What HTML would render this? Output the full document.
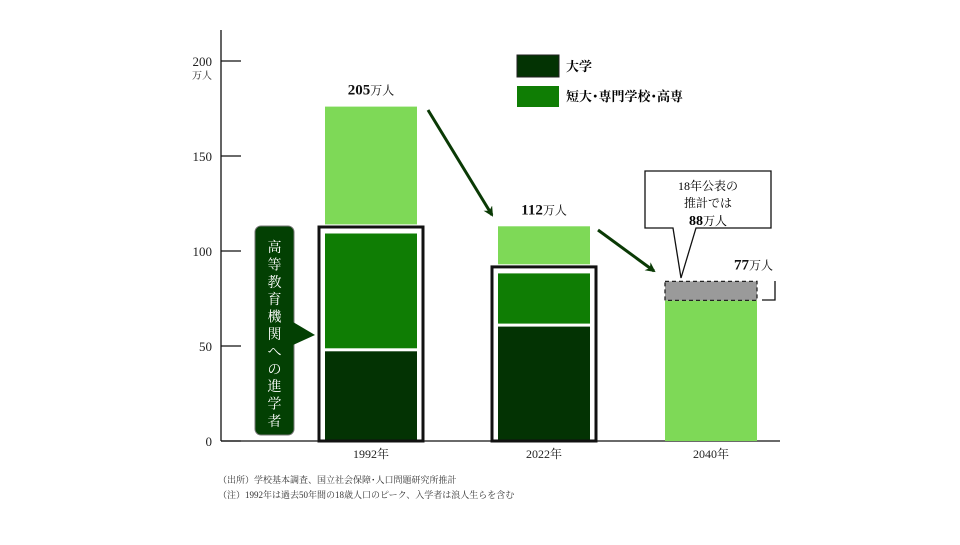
<!DOCTYPE html>
<html><head><meta charset="utf-8"><style>
body{margin:0;background:#fff;}
svg text{font-family:"Liberation Serif","Noto Serif CJK SC",serif;}
</style></head><body>
<svg width="960" height="540" viewBox="0 0 960 540">
<defs><marker id="ah" markerWidth="10" markerHeight="10" refX="8" refY="5" orient="auto" markerUnits="userSpaceOnUse" viewBox="0 0 10 10"><path d="M0,0 L10,5 L0,10 L3,5 z" fill="#0a3a05"/></marker></defs>
<g id="axis"></g>
<g id="bars"></g>
<g>
<rect x="517" y="55" width="42" height="22" fill="#033303" stroke="#222" stroke-width="1"/>
<text x="566" y="71" font-size="13" font-weight="bold">大学</text>
<rect x="517" y="86" width="42" height="21" fill="#0f7d04"/>
<text x="566" y="101" font-size="13" font-weight="bold">短大･専門学校･高専</text>
</g>
<g>
<rect x="255" y="226" width="39" height="209" rx="6" fill="#034003" stroke="#777" stroke-width="1"/>
<path d="M293,322 L315,335 L293,345 z" fill="#034003"/>
<text x="274.5" y="252" font-size="14" fill="#fff" text-anchor="middle">
<tspan x="274.5" dy="0">高</tspan><tspan x="274.5" dy="17.4">等</tspan><tspan x="274.5" dy="17.4">教</tspan><tspan x="274.5" dy="17.4">育</tspan><tspan x="274.5" dy="17.4">機</tspan><tspan x="274.5" dy="17.4">関</tspan><tspan x="274.5" dy="17.4">へ</tspan><tspan x="274.5" dy="17.4">の</tspan><tspan x="274.5" dy="17.4">進</tspan><tspan x="274.5" dy="17.4">学</tspan><tspan x="274.5" dy="17.4">者</tspan></text>
</g>
<line x1="428" y1="110" x2="492" y2="215" stroke="#0a3a05" stroke-width="3" marker-end="url(#ah)"/>
<line x1="598" y1="230" x2="654" y2="271" stroke="#0a3a05" stroke-width="3" marker-end="url(#ah)"/>
<g>
<path d="M645,171 L771,171 L771,228 L696,228 L681,278 L673,228 L645,228 z" fill="#fff" stroke="#111" stroke-width="1.3"/>
<text x="708" y="190" font-size="12" text-anchor="middle">18年公表の</text>
<text x="708" y="207" font-size="12" text-anchor="middle">推計では</text>
<text x="708" y="225" font-size="14" text-anchor="middle"><tspan font-weight="bold">88</tspan><tspan font-size="12">万人</tspan></text>
</g>
<path d="M762,300 L775,300 L775,281" fill="none" stroke="#111" stroke-width="1.3"/>
<text x="218" y="483" font-size="9" fill="#333">（出所）学校基本調査、国立社会保障･人口問題研究所推計</text>
<text x="218" y="498" font-size="9" fill="#333">（注）1992年は過去50年間の18歳人口のピーク、入学者は浪人生らを含む</text>
</svg>
<script>
const categories=["1992年","2022年","2040年"];
const university=[48,61,0];
const junior=[62,28,0];
const others=[62,20,74];
const estimate2018=[0,0,10];
const totals=["205","112","77"];
const yTicks=[0,50,100,150,200];
const NS="http://www.w3.org/2000/svg";
const y0=441,k=1.9;
const y=v=>y0-v*k;
const barX=[325,498,665],barW=92;
function mk(tag,attrs,parent,txt){const e=document.createElementNS(NS,tag);for(const a in attrs)e.setAttribute(a,attrs[a]);if(txt!==undefined)e.textContent=txt;parent.appendChild(e);return e;}
const ax=document.getElementById('axis');
const axl=mk('line',{x1:221,y1:30,x2:221,y2:441,stroke:'#111','stroke-width':1.3},ax);


const bl=mk('line',{x1:221,y1:441,x2:780,y2:441,stroke:'#111','stroke-width':1.3},ax);


yTicks.forEach(t=>{
 const tl=mk('line',{x1:221,y1:y(t),x2:241,y2:y(t),stroke:'#111','stroke-width':1.3},ax);
 
 
 const tx=mk('text',{x:212,y:y(t)+5,'font-size':13,'text-anchor':'end',fill:'#222'},ax,String(t));
 
 
});
const unit=mk('text',{x:212,y:y(200)+18,'font-size':10,'text-anchor':'end',fill:'#222'},ax,'万人');


const g=document.getElementById('bars');
const colors={u:'#033303',j:'#0f7d04',o:'#7ed957',e:'#9a9a9a'};
categories.forEach((c,i)=>{
 const x=barX[i];
 let base=0;
 const boxed=university[i]+junior[i];
 if(boxed>0){
  const bx=mk('rect',{x:x-6,y:y(boxed)-5,width:barW+12,height:(y0-(y(boxed)-5)),fill:'#fff',stroke:'#111','stroke-width':3},g);
  
  
 }
 const segs=[['u',university[i]],['j',junior[i]]];
 segs.forEach(([key,v])=>{
  if(v<=0)return;
  const r=mk('rect',{x:x,y:y(base+v)+1.5,width:barW,height:v*k-3,fill:colors[key]},g);
  
  
  base+=v;
 });
 if(boxed>0)base+=4;
 if(others[i]>0){
  const r=mk('rect',{x:x,y:y(base+others[i]),width:barW,height:others[i]*k,fill:colors.o},g);
  
  
  base+=others[i];
 }
 if(estimate2018[i]>0){
  const r=mk('rect',{x:x,y:y(base+estimate2018[i]),width:barW,height:estimate2018[i]*k,fill:colors.e,stroke:'#222','stroke-width':1.3,'stroke-dasharray':'4,3'},g);
  
  
 }
 const top=y(base+(estimate2018[i]||0));
 const lx=i===2?x+barW+16:x+barW/2;
 const lab=mk('text',{x:lx,y:top-12,'font-size':15,'font-weight':'bold','text-anchor':i===2?'end':'middle',fill:'#111'},g);
 
 
 mk('tspan',{},lab,totals[i]);
 mk('tspan',{'font-size':12,'font-weight':'normal'},lab,'万人');
 const cl=mk('text',{x:x+barW/2,y:458,'font-size':12,'text-anchor':'middle',fill:'#222'},g,c);
 
 
});
</script>
</body></html>
